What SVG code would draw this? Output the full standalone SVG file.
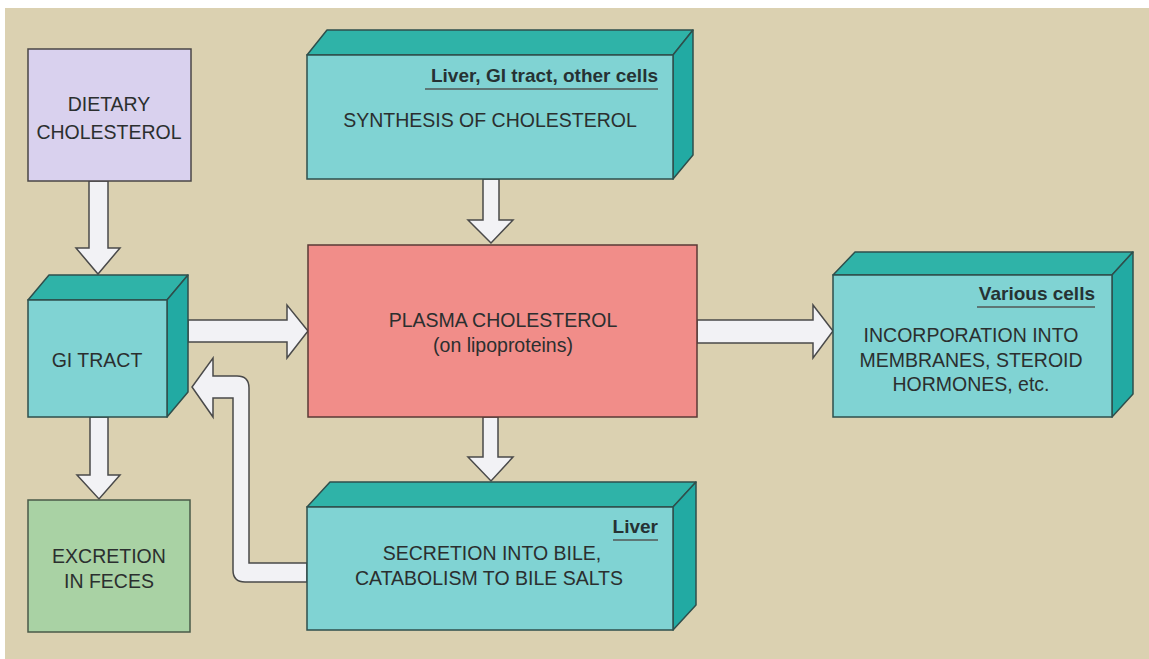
<svg xmlns="http://www.w3.org/2000/svg" width="1149" height="659" viewBox="0 0 1149 659">
<style>
  .t { font-family: "Liberation Sans", Arial, sans-serif; font-size: 19.5px; fill: #2b2f2f; text-anchor: middle; }
  .lbl { font-family: "Liberation Sans", Arial, sans-serif; font-size: 19px; font-weight: bold; fill: #263233; text-anchor: end; }
  .ul { stroke: #5d7675; stroke-width: 2; }
  .front { fill: #80d3d3; stroke: #2f4f4c; stroke-width: 1.5; }
  .top { fill: #2fb3a8; stroke: #2f4f4c; stroke-width: 1.5; stroke-linejoin: round; }
  .side { fill: #22aaa3; stroke: #2f4f4c; stroke-width: 1.5; stroke-linejoin: round; }
  .arrow { fill: #f2f2f5; stroke: #4a4a4a; stroke-width: 1.5; stroke-linejoin: miter; }
</style>
<rect x="0" y="0" width="1149" height="659" fill="#ffffff"/>
<rect x="5" y="8" width="1144" height="651" fill="#dbd1b1"/>

<g id="connectors">
  <polygon class="arrow" points="89,181 108,181 108,248 120,248 98,274 76,248 89,248"/>
  <polygon class="arrow" points="90,417 108,417 108,475 120,475 99,499 77,475 90,475"/>
  <polygon class="arrow" points="483,179 499,179 499,220 513,220 491,243 468,220 483,220"/>
  <polygon class="arrow" points="483,417 498,417 498,457 513,457 491,481 468,457 483,457"/>
  <polygon class="arrow" points="188,320 287,320 287,305 308,331 287,358 287,342 188,342"/>
  <polygon class="arrow" points="697,320 813,320 813,305 833,331 813,358 813,343 697,343"/>
  <path class="arrow" d="M307,563 L249,563 L249,388 Q249,376 237,376 L213,376 L213,358 L192,387 L213,417 L213,398 L233,398 L233,570 Q233,582 245,582 L307,582 Z"/>
</g>

<g id="dietary">
  <rect x="28" y="49" width="163" height="132" fill="#d9d1ee" stroke="#4a4646" stroke-width="1.5"/>
  <text class="t" x="109" y="111">DIETARY</text>
  <text class="t" x="109" y="139">CHOLESTEROL</text>
</g>

<g id="synthesis">
  <polygon class="top" points="307,55 327,30 693,30 673,55"/>
  <polygon class="side" points="673,55 693,30 693,155 673,179"/>
  <rect class="front" x="307" y="55" width="366" height="124"/>
  <text class="lbl" x="658" y="82">Liver, GI tract, other cells</text>
  <line class="ul" x1="425" y1="89" x2="658" y2="89"/>
  <text class="t" x="490" y="127">SYNTHESIS OF CHOLESTEROL</text>
</g>

<g id="gi-tract">
  <polygon class="top" points="28,300 49,275 188,275 167,300"/>
  <polygon class="side" points="167,300 188,275 188,392 167,417"/>
  <rect class="front" x="28" y="300" width="139" height="117"/>
  <text class="t" x="97" y="367">GI TRACT</text>
</g>

<g id="plasma">
  <rect x="308" y="245" width="389" height="172" fill="#f18d89" stroke="#5a3a36" stroke-width="1.5"/>
  <text class="t" x="503" y="327">PLASMA CHOLESTEROL</text>
  <text class="t" x="503" y="352">(on lipoproteins)</text>
</g>

<g id="various">
  <polygon class="top" points="833,275 855,252 1133,252 1112,275"/>
  <polygon class="side" points="1112,275 1133,252 1133,394 1112,417"/>
  <rect class="front" x="833" y="275" width="279" height="142"/>
  <text class="lbl" x="1095" y="300">Various cells</text>
  <line class="ul" x1="977" y1="307" x2="1095" y2="307"/>
  <text class="t" x="971" y="342">INCORPORATION INTO</text>
  <text class="t" x="971" y="367">MEMBRANES, STEROID</text>
  <text class="t" x="971" y="391">HORMONES, etc.</text>
</g>

<g id="liver">
  <polygon class="top" points="307,507 330,482 696,482 673,507"/>
  <polygon class="side" points="673,507 696,482 696,605 673,630"/>
  <rect class="front" x="307" y="507" width="366" height="123"/>
  <text class="lbl" x="658" y="533">Liver</text>
  <line class="ul" x1="613" y1="540" x2="658" y2="540"/>
  <text class="t" x="492" y="560">SECRETION INTO BILE,</text>
  <text class="t" x="489" y="585">CATABOLISM TO BILE SALTS</text>
</g>

<g id="excretion">
  <rect x="28" y="500" width="162" height="132" fill="#a9d2a4" stroke="#4a5a48" stroke-width="1.5"/>
  <text class="t" x="109" y="563">EXCRETION</text>
  <text class="t" x="109" y="588">IN FECES</text>
</g>
</svg>
